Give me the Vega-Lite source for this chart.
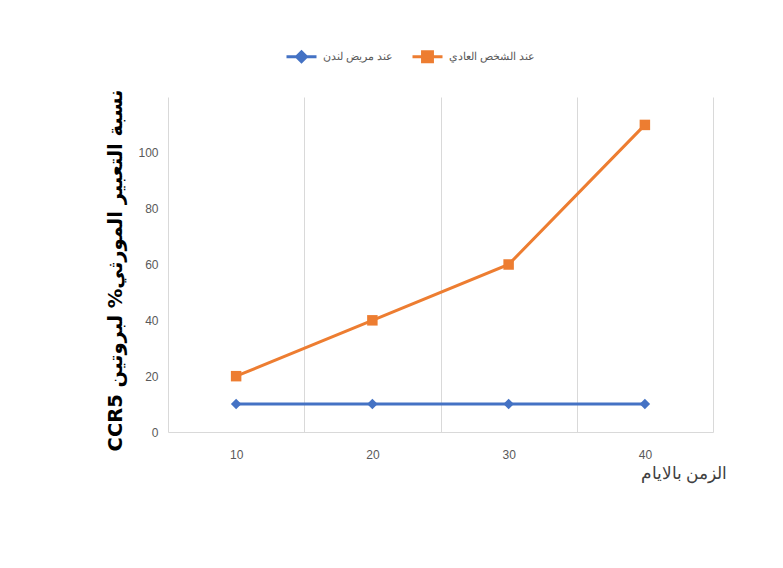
{
  "$schema": "https://vega.github.io/schema/vega-lite/v6.json",
  "autosize": "none",
  "width": 545,
  "height": 335,
  "padding": {"left": 168, "top": 97, "right": 70, "bottom": 136},
  "background": "white",
  "config": {
    "view": {"stroke": null},
    "font": "Liberation Sans"
  },
  "data": {
    "values": [
      {"day": "10", "series": "عند مريض لندن", "value": 10},
      {"day": "20", "series": "عند مريض لندن", "value": 10},
      {"day": "30", "series": "عند مريض لندن", "value": 10},
      {"day": "40", "series": "عند مريض لندن", "value": 10},
      {"day": "10", "series": "عند الشخص العادي", "value": 20},
      {"day": "20", "series": "عند الشخص العادي", "value": 40},
      {"day": "30", "series": "عند الشخص العادي", "value": 60},
      {"day": "40", "series": "عند الشخص العادي", "value": 110}
    ]
  },
  "encoding": {
    "x": {
      "field": "day",
      "type": "ordinal",
      "scale": {"paddingInner": 0, "paddingOuter": 0},
      "axis": {
        "title": "الزمن بالايام",
        "labelAngle": 0,
        "labelFontSize": 12,
        "labelColor": "#595959",
        "labelPadding": 17,
        "ticks": false,
        "grid": true,
        "tickBand": "extent",
        "gridColor": "#d9d9d9",
        "gridWidth": 1,
        "domainColor": "#d9d9d9",
        "domainWidth": 1,
        "titleFontSize": 17,
        "titleFontWeight": "normal",
        "titleColor": "#404040",
        "titleX": 559,
        "titleY": 41,
        "titleAlign": "right",
        "titleBaseline": "middle"
      }
    },
    "y": {
      "field": "value",
      "type": "quantitative",
      "scale": {"domain": [0, 120], "nice": false},
      "axis": {
        "title": "CCR5 نسبة التعبير المورثي% لبروتين",
        "values": [0, 20, 40, 60, 80, 100],
        "grid": false,
        "domain": false,
        "ticks": false,
        "labelPadding": 10,
        "labelFontSize": 12,
        "labelColor": "#595959",
        "titleFont": "DejaVu Sans",
        "titleFontSize": 19.5,
        "titleFontWeight": "bold",
        "titleColor": "#000000",
        "titleLimit": 600,
        "titleAngle": -90,
        "titleX": -53,
        "titleY": 173,
        "titleAlign": "center",
        "titleBaseline": "middle"
      }
    },
    "color": {
      "field": "series",
      "type": "nominal",
      "scale": {"domain": ["عند مريض لندن", "عند الشخص العادي"], "range": ["#4472C4", "#ED7D31"]},
      "legend": {
        "orient": "none",
        "legendX": 117,
        "legendY": -57,
        "direction": "horizontal",
        "title": null,
        "symbolSize": 900,
        "symbolStrokeWidth": 3,
        "labelFontSize": 11,
        "labelColor": "#595959",
        "columnPadding": 12,
        "labelOffset": 5,
        "encode": {
          "symbols": {
            "update": {
              "shape": {"signal": "datum.value === 'عند مريض لندن' ? 'M-1,0H1M-0.33,0L0,-0.33L0.33,0L0,0.33Z' : 'M-1,0H1M-0.33,-0.33H0.33V0.33H-0.33Z'"},
              "fill": {"scale": "color", "field": "value"},
              "stroke": {"scale": "color", "field": "value"},
              "strokeWidth": {"value": 3},
              "opacity": {"value": 1}
            }
          }
        }
      }
    }
  },
  "layer": [
    {"mark": {"type": "line", "strokeWidth": 3}},
    {
      "transform": [{"filter": "datum.series === 'عند مريض لندن'"}],
      "mark": {"type": "point", "shape": "diamond", "filled": true, "size": 110, "opacity": 1}
    },
    {
      "transform": [{"filter": "datum.series === 'عند الشخص العادي'"}],
      "mark": {"type": "point", "shape": "square", "filled": true, "size": 110, "opacity": 1}
    }
  ]
}
